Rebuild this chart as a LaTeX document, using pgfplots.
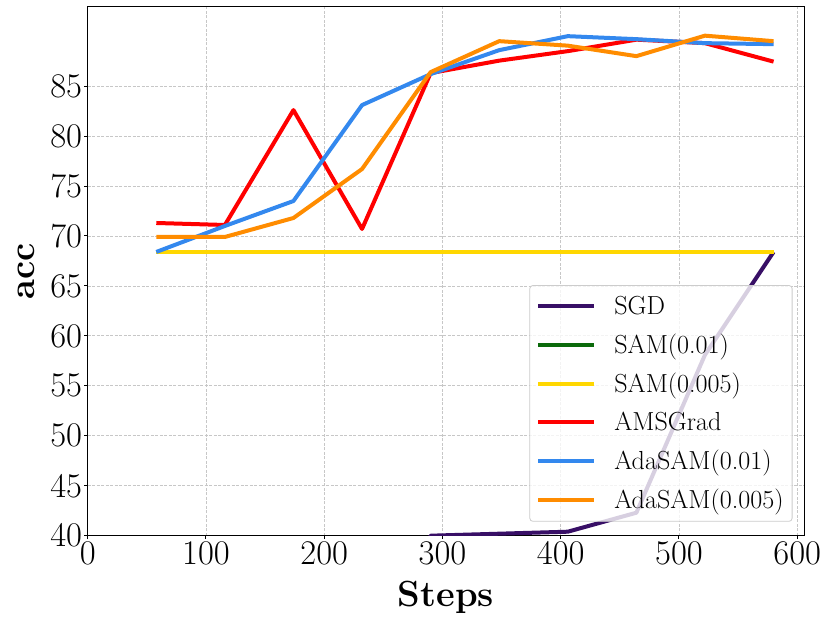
\documentclass[border=0pt]{standalone}
\usepackage{pgfplots}
\pgfplotsset{compat=1.18}
\definecolor{sgdc}{HTML}{380F66}
\definecolor{samA}{HTML}{0B6A0B}
\definecolor{samB}{HTML}{FFD700}
\definecolor{amsc}{HTML}{FF0000}
\definecolor{adaA}{HTML}{3388EE}
\definecolor{adaB}{HTML}{FF8C00}
\begin{document}
\begin{tikzpicture}
\useasboundingbox (-87.7bp,-86.3bp) rectangle (743.3bp,535.7bp);
\begin{axis}[
  at={(0,0)}, anchor=south west,
  scale only axis, width=716.6bp, height=529.2bp,
  xmin=0, xmax=606, ymin=40, ymax=92.97,
  xtick={0,100,...,600}, ytick={40,45,...,85},
  tick align=outside, xtick pos=bottom, ytick pos=left,
  major tick length=3.5bp,
  grid=major,
  major grid style={color=black!22, line width=0.8bp, dash pattern=on 3bp off 1.5bp},
  axis line style={line width=1bp, black},
  tick style={black, line width=1bp},
  /pgf/number format/assume math mode=true,
  ticklabel style={font=\fontsize{34.7}{40}\selectfont},
  xticklabel style={inner sep=2bp},
  yticklabel style={inner sep=2bp},
  xlabel={\textbf{Steps}}, ylabel={\textbf{acc}},
  label style={font=\fontsize{36.5}{42}\selectfont},
  xlabel style={at={(axis description cs:0.5,-0.1342)}, anchor=base},
  ylabel style={at={(axis description cs:-0.07354,0.5)}, anchor=base},
  legend style={at={(axis description cs:0.98354,0.02646)}, anchor=south east,
    draw=black!20, line width=0.8bp, fill=white, fill opacity=0.8, text opacity=1,
    rounded corners=3bp, font=\fontsize{26.2}{31}\selectfont,
    inner xsep=6.5bp, inner ysep=9bp, row sep=14bp,
    /tikz/every odd column/.append style={column sep=16bp}},
  legend cell align=left,
  legend image code/.code={\draw[#1] (0bp,0bp) -- (56bp,0bp);},
  every axis plot/.append style={line width=4bp, line join=round},
]
\addplot[sgdc] coordinates {(58,10) (116,10) (174,10) (232,20) (290,40.0) (348,40.2) (406,40.4) (464,42.3) (522,58.1) (580,68.4)};
\addlegendentry{SGD}
\addplot[samA] coordinates {(58,68.4) (116,68.4) (174,68.4) (232,68.4) (290,68.4) (348,68.4) (406,68.4) (464,68.4) (522,68.4) (580,68.4)};
\addlegendentry{SAM(0.01)}
\addplot[samB] coordinates {(58,68.4) (116,68.4) (174,68.4) (232,68.4) (290,68.4) (348,68.4) (406,68.4) (464,68.4) (522,68.4) (580,68.4)};
\addlegendentry{SAM(0.005)}
\addplot[amsc] coordinates {(58,71.3) (116,71.1) (174,82.6) (232,70.7) (290,86.3) (348,87.55) (406,88.5) (464,89.65) (522,89.3) (580,87.45)};
\addlegendentry{AMSGrad}
\addplot[adaA] coordinates {(58,68.4) (116,71.0) (174,73.5) (232,83.1) (290,86.2) (348,88.6) (406,90.0) (464,89.7) (522,89.3) (580,89.2)};
\addlegendentry{AdaSAM(0.01)}
\addplot[adaB] coordinates {(58,69.9) (116,69.9) (174,71.8) (232,76.7) (290,86.4) (348,89.5) (406,89.05) (464,88.0) (522,90.05) (580,89.5)};
\addlegendentry{AdaSAM(0.005)}
\end{axis}
\end{tikzpicture}
\end{document}
